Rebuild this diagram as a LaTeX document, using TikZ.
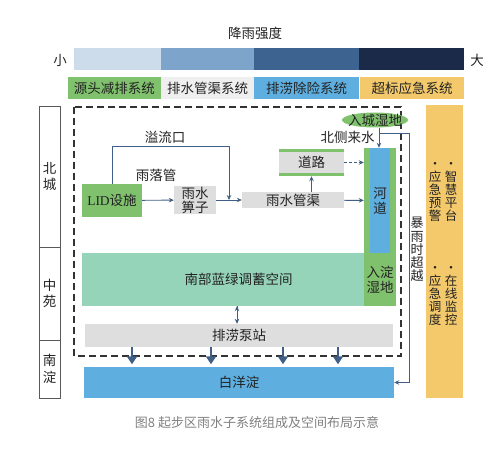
\documentclass[tikz,border=0pt]{standalone}
\usepackage{fontspec}
\setmainfont{Noto Sans CJK SC}
\newfontfamily\latinrm{Liberation Serif}
\usetikzlibrary{positioning, arrows.meta, shapes.geometric}

\definecolor{barA}{HTML}{CCDCEB}
\definecolor{barB}{HTML}{7DA5CC}
\definecolor{barC}{HTML}{3D6491}
\definecolor{barD}{HTML}{1B2A48}
\definecolor{greenc}{HTML}{80C16E}
\definecolor{mintc}{HTML}{95D4B9}
\definecolor{greyc}{HTML}{DEDEDE}
\definecolor{paleg}{HTML}{EFEFEF}
\definecolor{bluec}{HTML}{5EAFE0}
\definecolor{orangec}{HTML}{F3C96B}
\definecolor{linec}{HTML}{3F5F86}
\definecolor{txt}{HTML}{222222}

\begin{document}
\begin{tikzpicture}[x=1pt, y=-1pt, >={Stealth[length=5pt,width=4.5pt]},
    font=\fontsize{13.5}{15}\selectfont, text=txt,
    fillbox/.style={fill=#1, inner sep=0pt, align=center},
    zone/.style={draw=black!65, line width=0.6pt, inner sep=0pt, minimum width=21, align=center,
        font=\fontsize{13.5}{16.5}\selectfont},
    vtext/.style={inner sep=0pt, align=center, font=\fontsize{12.5}{13}\selectfont},
    flow/.style={->, draw=linec, line width=0.9pt},
    pump/.style={-{Triangle[length=8pt,width=10pt]}, draw=linec, line width=2.6pt, shorten >=2.5pt}]
    \useasboundingbox (0,0) rectangle (491,449);

    \node (title) at (255,33) {降雨强度};
    \node (small) at (60,60) {小};
    \node (big) at (477,60) {大};
    \fill[barA] (74,48) rectangle (161,70);
    \fill[barB] (161,48) rectangle (254,70);
    \fill[barC] (254,48) rectangle (359,70);
    \fill[barD] (359,48) rectangle (464,70);

    \node[fillbox=greenc, minimum width=93, minimum height=22] (S1) at (114.5,88) {源头减排系统};
    \node[fillbox=paleg, minimum width=93, minimum height=22] (S2) at (207.5,88) {排水管渠系统};
    \node[fillbox=bluec, minimum width=105, minimum height=22] (S3) at (306.5,88) {排涝除险系统};
    \node[fillbox=orangec, minimum width=104, minimum height=22] (S4) at (412,88) {超标应急系统};

    \node[zone, minimum height=141] (North) at (49.5,176.5) {北\\城};
    \node[zone, minimum height=93] (Mid) at (49.5,293.5) {中\\苑};
    \node[zone, minimum height=58] (South) at (49.5,369) {南\\淀};

    \draw[black!80, line width=1.4pt, dash pattern=on 7pt off 4pt] (74,107) rectangle (401,356);

    \node[fillbox=greenc, minimum width=60, minimum height=33] (LID) at (112,200.5) {{\latinrm LID}设施};
    \node[fillbox=greyc, minimum width=42, minimum height=28, font=\fontsize{13.5}{14}\selectfont] (Grate) at (195,200) {雨水\\箅子};
    \node[fillbox=greyc, minimum width=102, minimum height=16] (Pipe) at (293,200) {雨水管渠};
    \node[fillbox=greyc, minimum width=65, minimum height=27] (Road) at (311.5,162.5) {道路};
    \fill[greenc] (Road.north west) rectangle ++(65,3);
    \fill[greenc] (Road.south west) rectangle ++(65,-3);
    \node[fillbox=greenc, minimum width=32, minimum height=105] (River) at (380,200.5) {};
    \node[fillbox=bluec, minimum width=20, minimum height=105, font=\fontsize{13.5}{15}\selectfont] (RiverIn) at (River) {河\\道};
    \node[fillbox=mintc, minimum width=313, minimum height=53] (Store) at (238.5,279.5) {南部蓝绿调蓄空间};
    \node[fillbox=greenc, minimum width=32, minimum height=53, font=\fontsize{13.5}{14.5}\selectfont] (Marsh) at (380,279.5) {入淀\\湿地};
    \node[fillbox=greyc, minimum width=308, minimum height=23] (Pump) at (239,335.5) {排涝泵站};
    \node[fillbox=bluec, minimum width=310, minimum height=31] (Bay) at (239,382.5) {白洋淀};
    \node[ellipse, fill=greenc, inner sep=0pt, minimum width=66, minimum height=15] (CityWet) at (375,120) {};
    \node[inner sep=0pt] (CityWetName) at (CityWet.center) {入城湿地};
    \node[fillbox=orangec, minimum width=37, minimum height=293] (Emerg) at (444.5,251.5) {};

    \node (overflow) at (165,137) {溢流口};
    \node (downpipe) at (156,175) {雨落管};
    \node (inflow) at (347.5,137) {北侧来水};
    \node[vtext, font=\fontsize{13}{13.2}\selectfont] (bypass) at (417,249.5) {暴\\雨\\时\\超\\越};
    \node[vtext] (warn) at (435,192) {•\\应\\急\\预\\警};
    \node[vtext] (smart) at (451,192) {•\\智\\慧\\平\\台};
    \node[vtext] (dispatch) at (435,296) {•\\应\\急\\调\\度};
    \node[vtext] (monitor) at (451,296) {•\\在\\线\\监\\控};

    \coordinate (OFtop) at (229,146);
    \coordinate (OF) at (229,200);
    \coordinate (BR) at (379,133);
    \draw[flow] (LID.north) |- (OFtop) -- (OF);
    \draw[flow] (379,0 |- CityWet.south) -- (379,0 |- River.north);
    \draw[flow] (BR) -- ++(30,0) |- (Bay.east);

    \path[flow]
        (LID) edge (Grate)
        (Grate) edge (Pipe)
        (Pipe) edge (River)
        (Pipe.north -| Road) edge (Road.south)
        (Road.east) edge[dashed, dash pattern=on 3pt off 2pt] (Road.east -| River.west)
        (237,0 |- Store.south) edge (237,0 |- Pump.north);

    \foreach \x in {132,211,283,338}
        \draw[pump] (\x,0 |- Pump.south) -- (\x,0 |- Bay.north);

    \node[text=black!50, font=\fontsize{13}{15}\selectfont] (caption) at (257,423) {图8 起步区雨水子系统组成及空间布局示意};
\end{tikzpicture}
\end{document}
